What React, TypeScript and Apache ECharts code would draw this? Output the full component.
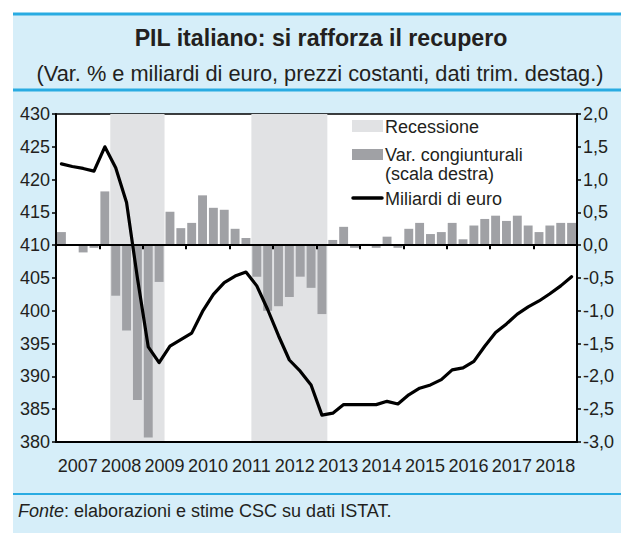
import { useEffect, useRef } from 'react';
import * as echarts from 'echarts';

const years = ['2007', '2008', '2009', '2010', '2011', '2012', '2013', '2014', '2015', '2016', '2017', '2018'];
const quarterNames = ['Q1', 'Q2', 'Q3', 'Q4'];
const quarters: string[] = years.flatMap((y) => quarterNames.map((q) => y + q));

// GDP, billions of euro (left axis)
const gdpBillions = [
  422.4, 422.0, 421.7, 421.3,
  425.0, 421.8, 416.5, 405.0,
  394.5, 392.1, 394.6, 395.6,
  396.6, 399.9, 402.5, 404.3,
  405.3, 405.9, 403.8, 400.2,
  396.2, 392.5, 390.8, 388.7,
  384.1, 384.4, 385.7, 385.7,
  385.7, 385.7, 386.2, 385.8,
  387.2, 388.2, 388.7, 389.5,
  391.0, 391.3, 392.3, 394.6,
  396.7, 398.0, 399.5, 400.6,
  401.5, 402.6, 403.8, 405.2,
];

// Quarter-on-quarter % change (right axis)
const qoqChange = [
  0.20, 0.0, -0.11, -0.04,
  0.82, -0.77, -1.30, -2.36,
  -2.93, -0.56, 0.51, 0.26,
  0.34, 0.76, 0.57, 0.54,
  0.25, 0.11, -0.48, -1.00,
  -0.93, -0.79, -0.48, -0.65,
  -1.05, 0.08, 0.28, -0.04,
  0.02, -0.04, 0.13, -0.04,
  0.25, 0.34, 0.17, 0.20,
  0.34, 0.09, 0.30, 0.40,
  0.45, 0.37, 0.45, 0.30,
  0.20, 0.30, 0.34, 0.34,
];

const recessionStarts = ['2008Q2', '2011Q3'];
const recessionEnds = ['2009Q2', '2013Q1'];

const TEXT = '#231f20';
const BAR = '#a0a1a5';
const SHADE = '#e1e2e4';
const BLUE = '#29abe2';
const PANEL = '#d6eef9';
const FONT = "'Liberation Sans', Arial, sans-serif";

export default function App() {
  const ref = useRef<HTMLDivElement>(null);

  useEffect(() => {
    const chart = echarts.init(ref.current!, null, { renderer: 'svg' });

    const recessionAreas = recessionStarts.map((s, i) => [
      { xAxis: quarters.indexOf(s) },
      { xAxis: quarters.indexOf(recessionEnds[i]) + 1 },
    ]);

    chart.setOption({
      animation: false,
      backgroundColor: '#ffffff',
      grid: {
        left: 56,
        right: 44,
        top: 114,
        bottom: 91,
        show: true,
        backgroundColor: '#ffffff',
        borderColor: '#000',
        borderWidth: 1.5,
      },
      xAxis: [
        {
          type: 'category',
          data: quarters,
          position: 'bottom',
          z: 10,
          axisLine: { onZero: true, onZeroAxisIndex: 1, lineStyle: { color: '#000', width: 2 } },
          axisTick: { show: true, interval: 3, length: 4, lineStyle: { color: '#000', width: 2 } },
          axisLabel: { show: false },
          splitLine: { show: false },
        },
        {
          type: 'category',
          data: years,
          position: 'bottom',
          z: 10,
          axisLine: { onZero: false, lineStyle: { color: '#000', width: 2 } },
          axisTick: { show: false },
          axisLabel: { interval: 0, fontSize: 18, color: TEXT, fontFamily: FONT, margin: 15 },
          splitLine: { show: false },
        },
        {
          type: 'value',
          min: 0,
          max: quarters.length,
          show: false,
        },
      ],
      yAxis: [
        {
          type: 'value',
          min: 380,
          max: 430,
          interval: 5,
          position: 'left',
          z: 10,
          axisLine: { show: true, onZero: false, lineStyle: { color: '#000', width: 2 } },
          axisTick: { show: true, length: 4, lineStyle: { color: '#000', width: 1.5 } },
          axisLabel: { fontSize: 18, color: TEXT, fontFamily: FONT, margin: 6 },
          splitLine: { show: false },
        },
        {
          type: 'value',
          min: -3,
          max: 2,
          interval: 0.5,
          position: 'right',
          z: 10,
          axisLine: { show: true, onZero: false, lineStyle: { color: '#000', width: 2 } },
          axisTick: { show: true, length: 4, lineStyle: { color: '#000', width: 1.5 } },
          axisLabel: {
            fontSize: 18,
            color: TEXT,
            fontFamily: FONT,
            margin: 6,
            formatter: (v: number) => v.toFixed(1).replace('.', ','),
          },
          splitLine: { show: false },
        },
      ],
      series: [
        {
          name: 'Recessione',
          type: 'line',
          xAxisIndex: 2,
          yAxisIndex: 1,
          data: [],
          z: 1,
          markArea: {
            silent: true,
            itemStyle: { color: SHADE },
            data: recessionAreas,
          },
        },
        {
          name: 'Var. congiunturali',
          type: 'bar',
          xAxisIndex: 0,
          yAxisIndex: 1,
          data: qoqChange,
          barCategoryGap: '18%',
          itemStyle: { color: BAR },
          z: 2,
        },
        {
          name: 'Miliardi di euro',
          type: 'line',
          xAxisIndex: 0,
          yAxisIndex: 0,
          data: gdpBillions,
          symbol: 'none',
          lineStyle: { color: '#000', width: 3.2, cap: 'round', join: 'round' },
          itemStyle: { color: '#000' },
          z: 4,
        },
      ],
      graphic: [
        { type: 'rect', z: -10, silent: true, shape: { x: 13, y: 13, width: 608, height: 520 }, style: { fill: PANEL } },
        { type: 'line', z: 1, shape: { x1: 13, y1: 14, x2: 621, y2: 14 }, style: { stroke: BLUE, lineWidth: 3 } },
        { type: 'line', z: 1, shape: { x1: 13, y1: 90, x2: 621, y2: 90 }, style: { stroke: BLUE, lineWidth: 3 } },
        { type: 'line', z: 1, shape: { x1: 13, y1: 494, x2: 621, y2: 494 }, style: { stroke: BLUE, lineWidth: 2 } },
        {
          type: 'text', x: 321, y: 38, scaleX: 0.965,
          style: { text: 'PIL italiano: si rafforza il recupero', fill: TEXT, font: `bold 24px ${FONT}`, textAlign: 'center', textVerticalAlign: 'middle' },
        },
        {
          type: 'text', x: 320, y: 73, scaleX: 0.99,
          style: { text: '(Var. % e miliardi di euro, prezzi costanti, dati trim. destag.)', fill: TEXT, font: `22px ${FONT}`, textAlign: 'center', textVerticalAlign: 'middle' },
        },
        {
          type: 'text', x: 18, y: 511,
          style: {
            text: '{i|Fonte}: elaborazioni e stime CSC su dati ISTAT.',
            fill: TEXT, font: `18px ${FONT}`, textAlign: 'left', textVerticalAlign: 'middle',
            rich: { i: { fontStyle: 'italic', fontSize: 18, fontFamily: FONT, fill: TEXT } },
          },
        },
        // legend
        { type: 'rect', z: 20, shape: { x: 352, y: 120, width: 31, height: 12 }, style: { fill: SHADE } },
        { type: 'text', z: 20, x: 385, y: 127, style: { text: 'Recessione', fill: TEXT, font: `18px ${FONT}`, textAlign: 'left', textVerticalAlign: 'middle' } },
        { type: 'rect', z: 20, shape: { x: 352, y: 149, width: 31, height: 11 }, style: { fill: BAR } },
        {
          type: 'text', z: 20, x: 385, y: 145,
          style: { text: 'Var. congiunturali\n(scala destra)', fill: TEXT, font: `18px ${FONT}`, lineHeight: 19, textAlign: 'left', textVerticalAlign: 'top' },
        },
        { type: 'line', z: 20, shape: { x1: 353, y1: 198, x2: 382, y2: 198 }, style: { stroke: '#000', lineWidth: 3.5, lineCap: 'round' } },
        { type: 'text', z: 20, x: 385, y: 199, style: { text: 'Miliardi di euro', fill: TEXT, font: `18px ${FONT}`, textAlign: 'left', textVerticalAlign: 'middle' } },
      ],
    });

    return () => chart.dispose();
  }, []);

  return (
    <div
      ref={ref}
      style={{ position: 'fixed', left: 0, top: 0, width: 621, height: 533, background: '#fff' }}
    />
  );
}
